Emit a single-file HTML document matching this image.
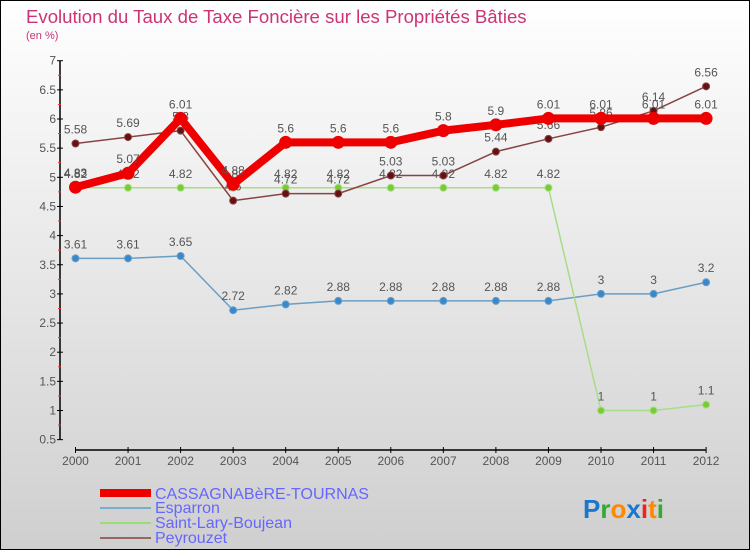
<!DOCTYPE html>
<html><head><meta charset="utf-8"><style>
html,body{margin:0;padding:0}
body{width:750px;height:550px;overflow:hidden;font-family:"Liberation Sans",sans-serif}
svg{display:block}
</style></head><body>
<svg id="chart" width="750" height="550" xmlns="http://www.w3.org/2000/svg">
<defs><linearGradient id="bg" x1="0" y1="0" x2="0" y2="1"><stop offset="0" stop-color="#ffffff"/><stop offset="1" stop-color="#cfcfcf"/></linearGradient></defs>
<rect x="0.5" y="0.5" width="749" height="549" fill="url(#bg)" stroke="#000"/>
<text x="26" y="23" font-size="18.6" fill="#cc3377">Evolution du Taux de Taxe Foncière sur les Propriétés Bâties</text>
<text x="26" y="39" font-size="11" fill="#cc3377">(en %)</text>
<g id="axes"></g>
<g id="series"></g>
<g id="legend" font-size="16" fill="#6666ff">
<rect x="100" y="489" width="51" height="8" fill="#ee0000"/>
<text x="155" y="499" fill="#6666ff">CASSAGNABèRE-TOURNAS</text>
<rect x="100" y="507" width="51" height="2" fill="#7aaed0"/>
<text x="155" y="513" fill="#6666ff">Esparron</text>
<rect x="100" y="522" width="51" height="2" fill="#99dd77"/>
<text x="155" y="528" fill="#6666ff">Saint-Lary-Boujean</text>
<rect x="100" y="537" width="51" height="2" fill="#996666"/>
<text x="155" y="543" fill="#6666ff">Peyrouzet</text>
</g>
<text x="583" y="518" font-size="26" font-weight="bold"><tspan fill="#1a77cc">P</tspan><tspan fill="#33aa33">r</tspan><tspan fill="#ff8800">o</tspan><tspan fill="#1a77cc">x</tspan><tspan fill="#ee2222">i</tspan><tspan fill="#ff8800">t</tspan><tspan fill="#33aa33">i</tspan></text>
</svg>
<script>
const years = [2000,2001,2002,2003,2004,2005,2006,2007,2008,2009,2010,2011,2012];
const cassagnabere = [4.83,5.07,6.01,4.88,5.6,5.6,5.6,5.8,5.9,6.01,6.01,6.01,6.01];
const esparron = [3.61,3.61,3.65,2.72,2.82,2.88,2.88,2.88,2.88,2.88,3,3,3.2];
const saintLary = [4.82,4.82,4.82,4.82,4.82,4.82,4.82,4.82,4.82,4.82,1,1,1.1];
const peyrouzet = [5.58,5.69,5.8,4.6,4.72,4.72,5.03,5.03,5.44,5.66,5.86,6.14,6.56];
const yTicks = [0.5,1,1.5,2,2.5,3,3.5,4,4.5,5,5.5,6,6.5,7];

const NS='http://www.w3.org/2000/svg';
const X0=75.5, XS=52.55, Y7=60.7, YU=58.3;
const xs=i=>X0+i*XS;
const ys=v=>Y7+(7-v)*YU;
function mk(tag,attrs,parent){const e=document.createElementNS(NS,tag);for(const k in attrs)e.setAttribute(k,attrs[k]);parent.appendChild(e);return e;}
const axes=document.getElementById('axes');
const ax=mk('line',{x1:60,y1:ys(7),x2:60,y2:ys(0.5),stroke:'#000','stroke-width':1.5},axes);


const bx=mk('line',{x1:X0,y1:450,x2:xs(12),y2:450,stroke:'#000','stroke-width':1.5},axes);


yTicks.forEach((v,i)=>{
  mk('line',{x1:57,y1:ys(v),x2:63,y2:ys(v),stroke:'#000'},axes);
  if(i>0) mk('line',{x1:58,y1:ys(v)+YU/4,x2:61,y2:ys(v)+YU/4,stroke:'#e33'},axes);
  const t=mk('text',{x:56,y:ys(v)+4,'font-size':12,fill:'#555','text-anchor':'end'},axes);
  t.textContent=String(v);
  
  
});
years.forEach((yr,i)=>{
  mk('line',{x1:xs(i),y1:447,x2:xs(i),y2:453,stroke:'#000'},axes);
  const t=mk('text',{x:xs(i),y:465,'font-size':12,fill:'#555','text-anchor':'middle'},axes);
  t.textContent=String(yr);
  
  
});
const sg=document.getElementById('series');
function draw(vals,name,color,w,r,dot){
  const g=mk('g',{},sg);
  
  
  const p=mk('polyline',{points:vals.map((v,i)=>xs(i)+','+ys(v)).join(' '),fill:'none',stroke:color,'stroke-width':w,'stroke-linejoin':'round'},g);
  
  
  vals.forEach((v,i)=>{
    const c=mk('circle',{cx:xs(i),cy:ys(v),r:r,fill:dot,stroke:color,'stroke-width':1},g);
    
    
    const t=mk('text',{x:xs(i),y:ys(v)-10,'font-size':12,fill:'#555','text-anchor':'middle'},g);
    t.textContent=String(v);
    
    
  });
}
draw(esparron,'esparron','#6a9ec4',1.5,3.5,'#3a88cc');
draw(saintLary,'saint-lary','#a8dd88',1.5,3.5,'#77cc33');
draw(peyrouzet,'peyrouzet','#884444',1.5,3.5,'#661111');
draw(cassagnabere,'cassagnabere','#ee0000',8,6,'#ee0000');
</script>
</body></html>
